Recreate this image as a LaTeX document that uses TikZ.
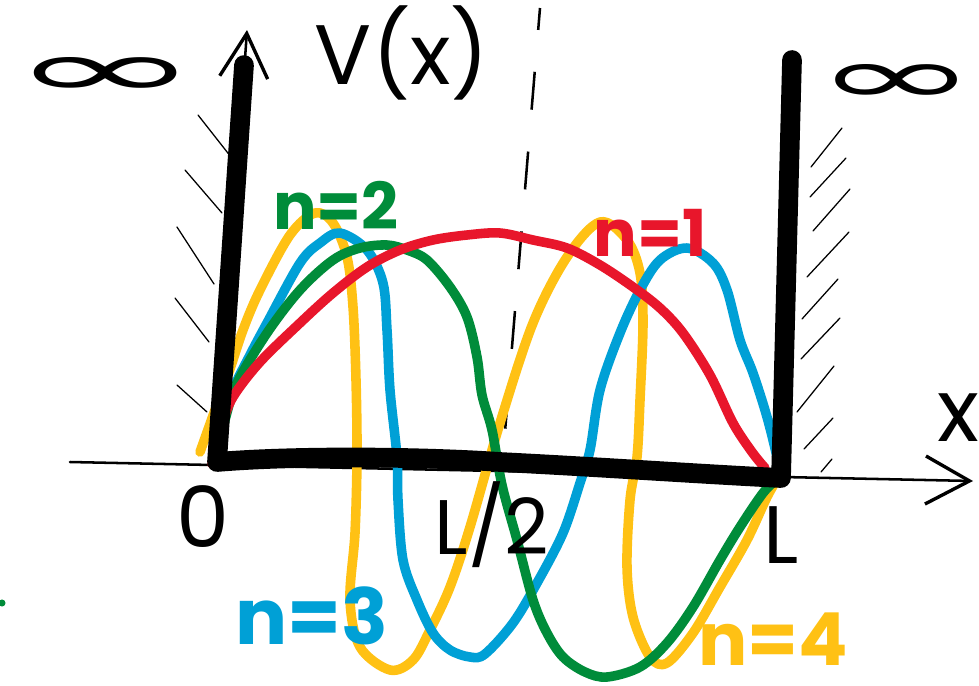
\documentclass[tikz,border=0pt]{standalone}
\usepackage{fontspec}
\setmainfont{Poppins}
\newfontfamily\symfont{DejaVu Sans}
\usepackage{tikz}
\usetikzlibrary{positioning,arrows.meta}
\definecolor{psired}{RGB}{232,22,43}
\definecolor{psigreen}{RGB}{0,140,58}
\definecolor{psiblue}{RGB}{0,160,214}
\definecolor{psiyellow}{RGB}{255,193,20}

\begin{document}
\begin{tikzpicture}[
    x=0.025cm, y=-0.025cm,
    wall/.style={line width=14pt, line cap=round, line join=round},
    axis/.style={line width=1.8pt, line cap=round,
                 -{Straight Barb[length=1.1cm, width=1.2cm, line width=2.4pt]}},
    psi/.style={line width=6.8pt, line cap=round, line join=round},
    hatch/.style={line width=0.9pt, line cap=round},
    lbl/.style={inner sep=0pt},
    tag/.style={inner sep=0pt, font=\bfseries\fontsize{46}{46}\selectfont}
]
\useasboundingbox (0,0) rectangle (979,685);

\coordinate (O) at (217,462);
\coordinate (L) at (781,478);
\coordinate (otop) at (244,65);
\coordinate (ltop) at (792,60);
\coordinate (xstart) at (70,462);
\coordinate (xend) at (973,481);
\coordinate (vtip) at (247,30);

% hatching behind the walls
\foreach \a/\b/\c/\d in {198/115/231/157, 185/170/222/213, 177/227/214/284,
                         175/298/209/342, 177/385/207/412}
  \draw[hatch] (\a,\b) -- (\c,\d);
\foreach \a/\b/\c/\d in {811/167/842/128, 810/197/846/158, 813/231/850/189,
                         807/277/849/232, 802/319/838/279, 801/359/840/318,
                         797/412/834/366, 804/449/833/418, 821/472/832/459}
  \draw[hatch] (\a,\b) -- (\c,\d);

% middle of the well
\coordinate (mtop) at (540,8);
\coordinate (mbot) at (502,468);
\draw[line width=1.8pt, dash pattern=on 0.95cm off 1.05cm, dash phase=0.4cm] (mtop) -- (mbot);

% axes
\draw[axis] (xstart) -- (xend);
\draw[axis] (O) -- (vtip);

% wave functions
\draw[psi, psiyellow] plot[smooth, tension=0.55] coordinates {
  (200,452) (215,410) (228,375) (243,330) (260,290) (290,235) (315,213)
  (333,223) (347,257) (353,307) (356,380) (357,457) (355,533) (350,600)
  (360,647) (390,670) (413,660) (430,630) (450,587) (470,527) (500,423)
  (533,323) (567,257) (600,222) (627,240) (640,273) (643,323) (640,400)
  (637,457) (630,500) (627,567) (633,617) (650,657) (667,663) (693,633)
  (720,587) (747,540) (767,497) (778,478)};
\draw[psi, psiblue] plot[smooth, tension=0.55] coordinates {
  (215,466) (222,430) (233,390) (250,355) (267,323) (300,263) (320,243)
  (340,233) (367,250) (383,283) (387,330) (390,390) (397,457) (398,500)
  (403,560) (417,600) (433,633) (450,650) (470,657) (485,654) (513,623)
  (537,583) (563,533) (580,483) (590,450) (600,390) (620,333) (640,290)
  (660,260) (687,248) (713,263) (727,290) (740,340) (753,373) (767,417)
  (777,457) (781,478)};
\draw[psi, psigreen] plot[smooth, tension=0.55] coordinates {
  (215,462) (225,420) (237,383) (267,333) (300,290) (333,260) (360,248)
  (387,245) (407,250) (427,260) (450,287) (467,317) (477,357) (482,395)
  (492,430) (502,485) (517,540) (533,600) (547,633) (563,657) (585,672)
  (607,677) (640,667) (667,643) (693,607) (720,560) (740,527) (763,493)
  (778,478)};
\draw[psi, psired] plot[smooth, tension=0.55] coordinates {
  (212,464) (222,425) (233,397) (260,362) (300,323) (333,293) (367,267)
  (400,250) (433,240) (467,235) (500,233) (533,240) (567,248) (600,265)
  (633,287) (660,308) (683,333) (710,375) (733,423) (752,452) (765,468)};

% the well
\draw[wall] (otop) -- (O) .. controls (300,455) and (430,457) .. (500,462)
  .. controls (600,467) and (700,474) .. (L) -- (ltop);

% labels
\node[lbl, font=\fontsize{60}{60}\selectfont] (pot) at (402,53) {V(x)};
\node[lbl, font=\fontsize{62}{62}\selectfont] (xlab) at (958,418) {x};
\node[lbl] (infl) at (106,77) {\resizebox{4.8cm}{1cm}{\symfont ∞}};
\node[lbl] (infr) at (897,84) {\resizebox{4.1cm}{1cm}{\symfont ∞}};
\node[lbl, font=\fontsize{60}{60}\selectfont] (orig) at (203,517) {0};
\node[lbl, font=\fontsize{55}{55}\selectfont] (half) at (492,525) {L/2};
\node[lbl, font=\fontsize{58}{58}\selectfont, below=0.7cm of L] (len) {L};

\node[tag, text=psired] (n1) at (650,233) {n=1};
\node[tag, text=psigreen] (n2) at (336,205) {n=2};
\node[tag, text=psiblue, font=\bfseries\fontsize{55}{55}\selectfont] (n3) at (312,616) {n=3};
\node[tag, text=psiyellow, font=\bfseries\fontsize{52}{52}\selectfont] (n4) at (773,639) {n=4};

\fill[psigreen] (2,603) circle (2.5pt);
\end{tikzpicture}
\end{document}
